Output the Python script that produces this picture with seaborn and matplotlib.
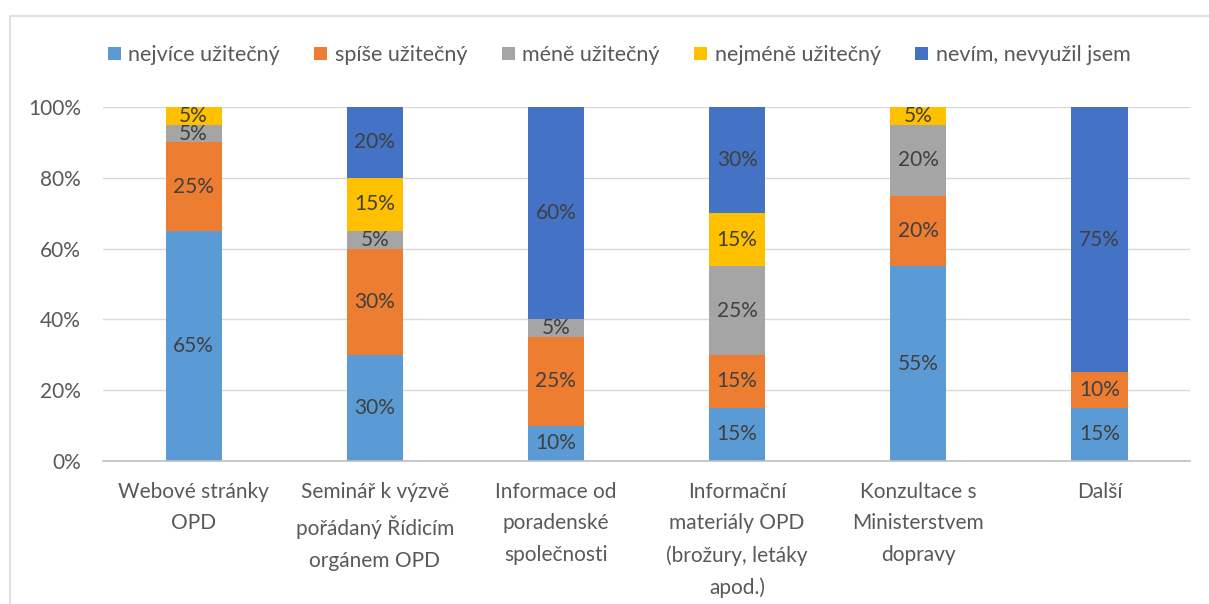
import numpy as np
import pandas as pd
import seaborn as sns
import matplotlib.pyplot as plt
from matplotlib.patches import Rectangle

categories = ["Webové stránky\nOPD",
              "Seminář k výzvě\npořádaný Řídicím\norgánem OPD",
              "Informace od\nporadenské\nspolečnosti",
              "Informační\nmateriály OPD\n(brožury, letáky\napod.)",
              "Konzultace s\nMinisterstvem\ndopravy",
              "Další"]
series = ["nejvíce užitečný", "spíše užitečný", "méně užitečný",
          "nejméně užitečný", "nevím, nevyužil jsem"]
nejvice = [65, 30, 10, 15, 55, 15]
spise = [25, 30, 25, 15, 20, 10]
mene = [5, 5, 5, 25, 20, 0]
nejmene = [5, 15, 0, 15, 5, 0]
nevim = [0, 20, 60, 30, 0, 75]
colors = ["#5B9BD5", "#ED7D31", "#A5A5A5", "#FFC000", "#4472C4"]

sns.set_theme(style="white")
plt.rcParams['font.family'] = ['Lato', 'DejaVu Sans']

fig = plt.figure(figsize=(12.09, 6.04), dpi=100)
ax = fig.add_axes([0.0852, 0.2368, 0.8991, 0.586])

values = [nejvice, spise, mene, nejmene, nevim]
bottom = np.zeros(len(categories))
for name, vals, col in zip(series, values, colors):
    df = pd.DataFrame({"cat": categories, "val": vals})
    sns.barplot(data=df, x="cat", y="val", color=col, saturation=1,
                width=0.31, bottom=bottom, label=name, ax=ax, zorder=2,
                linewidth=0)
    for i, v in enumerate(vals):
        if v > 0:
            ax.text(i, bottom[i] + v / 2, f"{v}%", ha="center", va="center",
                    fontsize=15, color="#404040", zorder=3)
    bottom = bottom + np.array(vals)

ax.set_xlim(-0.5, len(categories) - 0.5)
ax.set_ylim(0, 100)
ax.set_yticks(range(0, 101, 20))
ax.set_yticklabels([f"{t}%" for t in range(0, 101, 20)])
ax.yaxis.grid(True, color="#D9D9D9", linewidth=1, zorder=0)
ax.set_axisbelow(True)
for s in ["top", "right", "left"]:
    ax.spines[s].set_visible(False)
ax.spines["bottom"].set_color("#BFBFBF")
ax.spines["bottom"].set_linewidth(1.2)
ax.tick_params(axis="both", length=0, labelsize=15, colors="#595959")
ax.tick_params(axis="y", pad=16)
ax.tick_params(axis="x", pad=15)
for lab in ax.get_xticklabels():
    lab.set_linespacing(1.72)
ax.set_xlabel("")
ax.set_ylabel("")

handles, labels = ax.get_legend_handles_labels()
if ax.legend_:
    ax.legend_.remove()
fig.legend(handles, labels, loc="center", bbox_to_anchor=(0.512, 0.909),
           ncol=5, frameon=False, fontsize=15.5, handlelength=0.6,
           handleheight=0.6, handletextpad=0.35, columnspacing=1.6,
           labelcolor="#595959")

fig.patches.append(Rectangle((10 / 1209, -0.1), 1.2, 1.1 - 16 / 604,
                             transform=fig.transFigure, fill=False,
                             edgecolor="#D9D9D9", linewidth=1.2))

fig.savefig("out.png", dpi=100)
